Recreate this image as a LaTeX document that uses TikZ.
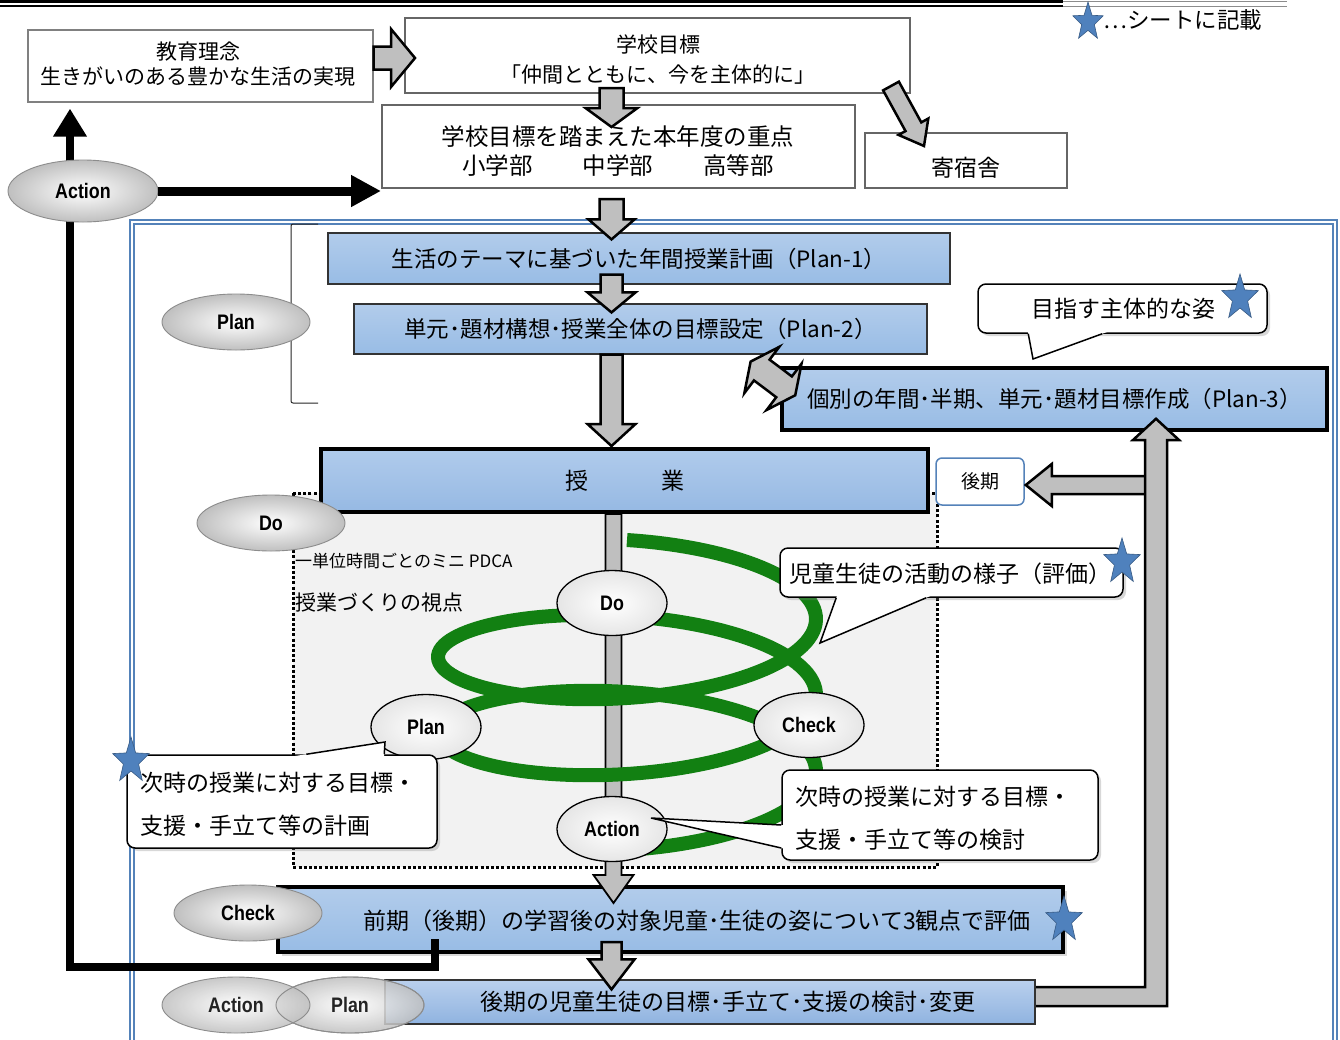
\documentclass[tikz,border=0pt]{standalone}
\usepackage{fontspec}
\setmainfont{Noto Sans CJK JP}
\newfontfamily\labfont{Liberation Sans}[FakeStretch=0.85]
\usetikzlibrary{calc,shapes.geometric,arrows.meta,shadows}

\definecolor{framecol}{RGB}{84,130,185}
\definecolor{arrgray}{RGB}{191,191,191}
\definecolor{blueA}{RGB}{178,204,235}
\definecolor{blueB}{RGB}{223,234,247}
\definecolor{blueC}{RGB}{152,188,229}
\definecolor{jugyoA}{RGB}{176,203,236}
\definecolor{jugyoB}{RGB}{150,185,227}
\definecolor{koukiA}{RGB}{186,208,237}
\definecolor{koukiB}{RGB}{143,179,224}
\definecolor{starblue}{RGB}{79,129,189}
\definecolor{helixgreen}{RGB}{18,128,18}
\definecolor{pdcagray}{RGB}{242,242,242}

% straight block arrow: [style]{start}{tip}{half shaft}{half head}{head length}
\newcommand\blockarrow[6][]{%
  \coordinate (ba-s) at (#2);
  \coordinate (ba-e) at (#3);
  \coordinate (ba-h) at ($(ba-e)!#6pt!(ba-s)$);
  \draw[blockarrow,#1]
    ($(ba-s)!#4pt!90:(ba-e)$) -- ($(ba-h)!#4pt!-90:(ba-s)$) --
    ($(ba-h)!#5pt!-90:(ba-s)$) -- (ba-e) --
    ($(ba-h)!#5pt!90:(ba-s)$) -- ($(ba-h)!#4pt!90:(ba-s)$) --
    ($(ba-s)!#4pt!-90:(ba-e)$) -- cycle;}

% double-headed block arrow: [style]{tip a}{tip b}{half shaft}{half head}{head length}
\newcommand\dblarrow[6][]{%
  \coordinate (da-a) at (#2);
  \coordinate (da-b) at (#3);
  \coordinate (da-ha) at ($(da-a)!#6pt!(da-b)$);
  \coordinate (da-hb) at ($(da-b)!#6pt!(da-a)$);
  \draw[blockarrow,#1]
    (da-a) -- ($(da-ha)!#5pt!90:(da-b)$) -- ($(da-ha)!#4pt!90:(da-b)$) --
    ($(da-hb)!#4pt!-90:(da-a)$) -- ($(da-hb)!#5pt!-90:(da-a)$) -- (da-b) --
    ($(da-hb)!#5pt!90:(da-a)$) -- ($(da-hb)!#4pt!90:(da-a)$) --
    ($(da-ha)!#4pt!-90:(da-b)$) -- ($(da-ha)!#5pt!-90:(da-b)$) -- cycle;}

\begin{document}
\begin{tikzpicture}[x=1pt, y=-1pt, line join=miter,
  graybox/.style={draw=black!60, line width=2pt, fill=white, inner sep=0pt},
  whitebox/.style={draw=black!50, line width=1.2pt, fill=white, inner sep=0pt},
  planbox/.style={draw=black!80, line width=1.2pt, top color=blueA, middle color=blueB, bottom color=blueC, inner sep=0pt, tx},
  heavybox/.style={draw=black, line width=3.5pt, top color=blueA, middle color=blueB, bottom color=blueC, inner sep=0pt, tx},
  tx/.style={font=\fontsize{22.5}{27}\selectfont, inner sep=0pt},
  lab/.style={font=\labfont\bfseries\fontsize{21}{21}\selectfont},
  grayoval/.style={ellipse, draw=black!45, line width=0.9pt, inner color=white, outer color=black!25, minimum width=148pt, minimum height=56pt, inner sep=0pt, lab},
  pdcaoval/.style={ellipse, draw=black, line width=1.3pt, inner color=white, outer color=black!10, minimum width=110pt, minimum height=65pt, inner sep=0pt, lab},
  blockarrow/.style={draw=black, line width=2.5pt, fill=arrgray},
  blackarrow/.style={draw=black, line width=8pt, -{Triangle[length=28pt,width=32pt]}},
  calloutbox/.style={draw=black, line width=1.5pt, fill=white, rounded corners=8pt, inner sep=0pt,
    drop shadow={shadow xshift=3pt, shadow yshift=-3pt, opacity=0.3}},
  pointer/.style={draw=black, line width=1.5pt},
  bigstar/.style={star, star points=5, star point ratio=2.4, fill=starblue, draw=starblue!70!black, line width=0.6pt, minimum size=48pt, inner sep=0pt, xscale=0.8},
  pdcaframe/.style={fill=pdcagray, draw=black, line width=3pt, dash pattern=on 3pt off 2.2pt}
]
\useasboundingbox (0,0) rectangle (1340,1039);
\clip (0,0) rectangle (1340,1039);
\fill[white] (0,0) rectangle (1340,1039);

\coordinate (spine) at (611.5,0);
\coordinate (bar) at (613.5,0);

% header rule
\draw[line width=2.8pt] (0,1.5) -- (1063,1.5);
\draw[line width=1.5pt] (0,6) -- (1063,6);
\draw[black!45, line width=1pt] (1063,1.5) -- (1287,1.5) (1063,6) -- (1287,6);

% blue double frame
\draw[framecol, line width=1.6pt, double=white, double distance=2pt] (132,222) rectangle (1335,1060);

% school level boxes
\node[whitebox, minimum width=345pt, minimum height=72pt] (kyo) at (200.5,66) {};
\node[font=\fontsize{21}{25}\selectfont, inner sep=0pt, align=center] (kyo-t) at (198,64.5) {教育理念\\生きがいのある豊かな生活の実現};

\node[graybox, minimum width=505pt, minimum height=75pt] (gk) at (657.5,55.5) {};
\node[font=\fontsize{21}{30}\selectfont, inner sep=0pt, align=center] (gk-t) at (658,60) {学校目標\\「仲間とともに、今を主体的に」};

\node[graybox, minimum width=473pt, minimum height=83pt] (jyu) at (618.5,146.5) {};
\node[font=\fontsize{23.5}{29}\selectfont, inner sep=0pt, align=center] (jyu-t) at (618,151.5) {学校目標を踏まえた本年度の重点\\小学部\hspace{50pt}中学部\hspace{50pt}高等部};

\node[graybox, minimum width=202pt, minimum height=55pt] (kishu) at (966,160.5) {};
\node[font=\fontsize{23}{23}\selectfont, inner sep=0pt] (kishu-t) at (966,168) {寄宿舎};

% legend
\node[bigstar, minimum size=40pt] (leg-star) at (1088,22) {};
\node[tx, anchor=west] (leg-t) at (1103,20) {…シートに記載};

% one-period PDCA area
\draw[pdcaframe] (293,493) rectangle (937,867);
\node[font=\fontsize{17}{17}\selectfont, inner sep=0pt, anchor=west] (mini-t) at (295,561) {一単位時間ごとのミニ PDCA};
\node[font=\fontsize{21}{21}\selectfont, inner sep=0pt, anchor=west] (view-t) at (295,603) {授業づくりの視点};

% planning and lesson boxes
\node[planbox, minimum width=622pt, minimum height=51pt] (plan1) at (639,258.5) {生活のテーマに基づいた年間授業計画（Plan-1）};
\node[planbox, minimum width=573pt, minimum height=50pt] (plan2) at (640.5,329) {単元･題材構想･授業全体の目標設定（Plan-2）};
\node[heavybox, minimum width=545pt, minimum height=62pt] (plan3) at (1054.5,399) {個別の年間･半期、単元･題材目標作成（Plan-3）};
\node[draw=black, line width=4pt, top color=jugyoA, bottom color=jugyoB, inner sep=0pt, tx, font=\fontsize{23}{23}\selectfont,
      minimum width=607pt, minimum height=63pt] (jugyo) at (624.5,480.5) {授\hspace{73pt}業};
\node[draw=framecol, line width=1.5pt, fill=white, rounded corners=6pt, inner sep=0pt, font=\fontsize{19}{19}\selectfont,
      minimum width=88pt, minimum height=47pt] (kouki-s) at (980,481.5) {後期};
\node[heavybox, line width=4pt, minimum width=785pt, minimum height=65pt,
      drop shadow={shadow xshift=4pt, shadow yshift=-4pt, opacity=0.3}] (chk) at (670.5,919.5) {};
\node[tx, font=\fontsize{23}{23}\selectfont] (chk-t) at (697,921) {前期（後期）の学習後の対象児童･生徒の姿について3観点で評価};

% feedback to the second term and to Plan-3
\blockarrow{$(kouki-s.east)+(122,3.5)$}{$(kouki-s.east)+(1,3.5)$}{9}{21}{26}
\coordinate (ret-tip) at ($(plan3.south)+(101.5,-13)$);
\draw[blockarrow] (1030,987) -- (1145,987) -- (1145,440) -- (1133,440) -- (ret-tip)
  -- (1179,440) -- (1167,440) -- (1167,1006) -- (1030,1006);
\node[draw=black!80, line width=1.2pt, top color=koukiA, bottom color=koukiB, inner sep=0pt,
      minimum width=650pt, minimum height=44pt] (kouki) at (710,1002) {};
\node[tx, font=\fontsize{23}{23}\selectfont] (kouki-t) at (728,1002) {後期の児童生徒の目標･手立て･支援の検討･変更};

% block arrows of the main flow
\blockarrow{$(kyo.east)+(0,-8)$}{$(gk.west)+(11,2.5)$}{11.5}{29}{24}
\blockarrow{$(gk.south-|spine)+(0,-6)$}{$(jyu.north-|spine)+(0,23)$}{12}{26}{19}
\blockarrow{$(gk.south east)+(-20,-8)$}{$(kishu.north west)+(60,14)$}{9}{17}{22}
\blockarrow{$(jyu.south-|spine)+(0,10)$}{$(plan1.north-|spine)+(0,7)$}{12}{23}{20}
\blockarrow{$(plan1.south-|spine)+(0,-10)$}{$(plan2.north-|spine)+(0,9)$}{11}{24}{20}
\blockarrow{plan2.south-|spine}{$(jugyo.north-|spine)+(0,-1)$}{11}{24}{22}
\dblarrow{$(plan2.south east)+(-177,7)$}{$(plan3.north west)+(15,29)$}{13}{29}{14}
\blockarrow[line width=1.8pt]{jugyo.south-|bar}{$(chk.north-|bar)+(0,18)$}{8}{20}{28}
\blockarrow{$(chk.south-|spine)+(0,-12)$}{$(kouki.north-|spine)+(0,10)$}{10}{23}{30}

% spiral of the one-period cycle
\draw[helixgreen, line width=14pt, line cap=butt]
  plot[domain=0:905, samples=300, variable=\t] ({627+189*sin(\t)}, {600+0.211111*\t-60*cos(\t)});

\node[pdcaoval] (m-do) at (612,603) {Do};
\node[pdcaoval] (m-plan) at (426,727) {Plan};
\node[pdcaoval] (m-check) at (809,725) {Check};
\node[pdcaoval] (m-act) at (612,829) {Action};

% callouts
\node[calloutbox, minimum width=289pt, minimum height=49pt] (cA) at (1122.5,308.5) {};
\coordinate (cA-p1) at ($(cA.south west)+(51,0)$);
\coordinate (cA-p2) at ($(cA.south west)+(125,0)$);
\coordinate (cA-tip) at (1033,359);
\fill[white] (cA-tip) -- ($(cA-tip)!1.15!(cA-p1)$) -- ($(cA-tip)!1.15!(cA-p2)$) -- cycle;
\draw[pointer] (cA-p1) -- (cA-tip) -- (cA-p2);
\node[tx, font=\fontsize{23}{23}\selectfont] (cA-t) at (1123,309) {目指す主体的な姿};
\node[bigstar] (cA-star) at (1240,298) {};

\node[calloutbox, minimum width=343pt, minimum height=49pt] (cB) at (951.5,572.5) {};
\coordinate (cB-p1) at ($(cB.south west)+(57,0)$);
\coordinate (cB-p2) at ($(cB.south west)+(147,0)$);
\coordinate (cB-tip) at (820,643);
\fill[white] (cB-tip) -- ($(cB-tip)!1.12!(cB-p1)$) -- ($(cB-tip)!1.12!(cB-p2)$) -- cycle;
\draw[pointer] (cB-p1) -- (cB-tip) -- (cB-p2);
\node[tx, font=\fontsize{23}{23}\selectfont] (cB-t) at (950,574) {児童生徒の活動の様子（評価）};
\node[bigstar] (cB-star) at (1122,562) {};

\node[calloutbox, minimum width=310pt, minimum height=93pt] (cC) at (282,801.5) {};
\coordinate (cC-p1) at ($(cC.north west)+(180,0)$);
\coordinate (cC-p2) at ($(cC.north west)+(258,0)$);
\coordinate (cC-tip) at (385,742);
\fill[white] (cC-tip) -- ($(cC-tip)!1.35!(cC-p1)$) -- ($(cC-tip)!1.35!(cC-p2)$) -- cycle;
\draw[pointer] (cC-p1) -- (cC-tip) -- (cC-p2);
\node[tx, font=\fontsize{23}{43}\selectfont, anchor=west, align=left] (cC-t) at (140,804.5) {次時の授業に対する目標・\\支援・手立て等の計画};
\node[bigstar] (cC-star) at (131,761) {};

\node[calloutbox, minimum width=316pt, minimum height=90pt] (cD) at (940,815) {};
\coordinate (cD-p1) at ($(cD.west)+(0,10)$);
\coordinate (cD-p2) at ($(cD.west)+(0,33)$);
\coordinate (cD-tip) at (651,818);
\fill[white] (cD-tip) -- ($(cD-tip)!1.25!(cD-p1)$) -- ($(cD-tip)!1.25!(cD-p2)$) -- cycle;
\draw[pointer] (cD-p1) -- (cD-tip) -- (cD-p2);
\node[tx, font=\fontsize{23}{43}\selectfont, anchor=west, align=left] (cD-t) at (795,818.5) {次時の授業に対する目標・\\支援・手立て等の検討};

\node[bigstar] (chk-star) at (1064,920) {};

% the outer cycle: Action back to the top
\coordinate (loopA) at ($(chk.south west)+(159,-15)$);
\coordinate (loopB) at (70,967);
\draw[blackarrow, line join=miter] (loopA) |- (loopB) -- ($(kyo.south -| loopB)+(0,6)$);

\node[grayoval, minimum width=150pt, minimum height=62pt] (act1) at (83,191) {Action};
\draw[blackarrow, line width=9pt, -{Triangle[length=30pt,width=30pt]}] (act1.east) -- (act1.east -| jyu.west);

% bracket grouping the plan stages
\draw[black!85, line width=1pt, rounded corners=2pt] (318,224) -- (291,224) -- (291,403) -- (318,403);

\node[grayoval] (plan-o) at (236,322) {Plan};
\node[grayoval] (do-o) at (271,523) {Do};
\node[grayoval] (check-o) at (248,913) {Check};
\node[grayoval, fill opacity=0.85] (plan-o2) at (350,1005) {Plan};
\node[grayoval, fill opacity=0.85] (act-o2) at (236,1005) {Action};
\draw[black!45, line width=0.9pt] (plan-o2.center) ellipse [x radius=74, y radius=28];
\end{tikzpicture}
\end{document}
